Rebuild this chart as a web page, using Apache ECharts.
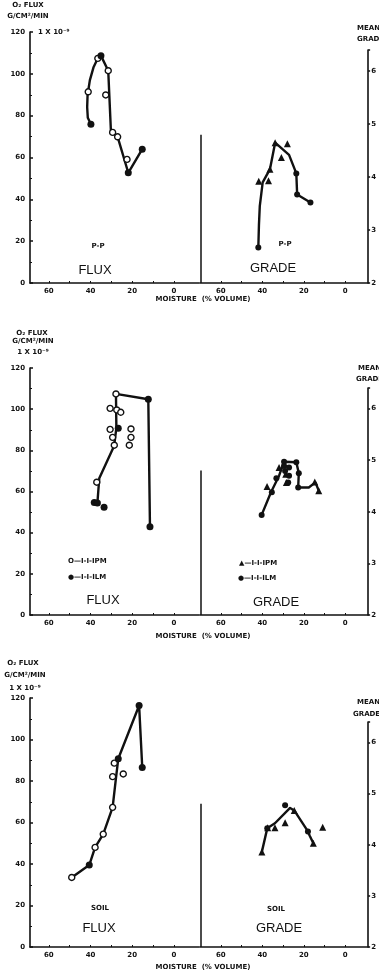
<!DOCTYPE html>
<html>
<head>
<meta charset="utf-8">
<title>O2 flux and mean grade vs moisture</title>
<script src="https://cdn.jsdelivr.net/npm/echarts@6.0.0/dist/echarts.min.js"></script>
<style>
  html, body { margin: 0; padding: 0; background: #fff; }
  #chart { width: 379px; height: 971px; }
</style>
</head>
<body>
<div id="chart"></div>
<script>
// moisture (% volume) against O2 flux (g/cm2/min x 1e-9) and mean grade, three plots
const moistureTicks = [60, 40, 20, 0];
const moistureMinor = [60, 50, 40, 30, 20, 10, 0];
const dividerTop = 4.8; // grade value where the middle line stops

// plot 1: P-P
const ppFluxLine = [[39.8, 75.9], [41.3, 79], [41.6, 84], [41.4, 90], [40.3, 97], [38.6, 103], [36.5, 107.4], [35, 108.7], [31.5, 101.5], [30.2, 72.3], [27, 69.9], [21.9, 52.7], [15.2, 64]];
const ppFluxOpen = [[41.1, 91.4], [36.5, 107.4], [31.5, 101.5], [32.7, 89.9], [29.4, 72], [27, 69.9], [22.5, 59.1]];
const ppFluxFilled = [[39.8, 75.9], [35, 108.7], [21.9, 52.7], [15.2, 64]];
const ppGradeLine = [[41.9, 2.67], [41.6, 3.1], [41.2, 3.45], [39.8, 3.9], [36.3, 4.15], [33.8, 4.65], [27.1, 4.42], [23.6, 4.07], [23.2, 3.67], [16.8, 3.52]];
const ppGradeTri = [[41.7, 3.92], [37, 3.93], [36.3, 4.15], [33.8, 4.65], [27.9, 4.63], [30.8, 4.37]];
const ppGradeDot = [[41.9, 2.67], [23.6, 4.07], [23.2, 3.67], [16.8, 3.52]];

// plot 2: I-I-I PM (open / triangles) and I-I-I LM (filled)
const pmFluxLine = [[38.2, 54.6], [36.7, 54.4], [35.8, 66.4], [28.7, 82.1], [27.6, 90.9], [27.8, 107.4], [12.3, 104.8], [11.5, 42.9]];
const pmFluxOpen = [[37, 64.5], [30.6, 100.4], [27.4, 99.6], [25.5, 98.5], [30.6, 90.2], [29.4, 86.3], [28.6, 82.5], [20.6, 90.4], [20.6, 86.3], [21.4, 82.5], [27.8, 107.4]];
const lmFluxFilled = [[38.2, 54.6], [36.7, 54.4], [33.5, 52.3], [26.7, 90.7], [12.3, 104.8], [11.5, 42.9]];
const pmGradeLine = [[40.3, 3.94], [35.8, 4.38], [31.9, 4.7], [29.5, 4.97], [23.6, 4.96], [22.4, 4.75], [22.7, 4.47], [17.6, 4.47], [14.4, 4.57], [12.8, 4.41]];
const pmGradeTri = [[37.7, 4.49], [31.9, 4.86], [28.7, 4.73], [28.4, 4.57], [14.7, 4.58], [12.8, 4.41]];
const lmGradeDot = [[40.3, 3.94], [35.4, 4.38], [33.2, 4.65], [29.5, 4.97], [29.5, 4.89], [29, 4.79], [27.1, 4.86], [27.1, 4.7], [27.5, 4.57], [23.6, 4.96], [22.4, 4.75], [22.7, 4.47]];

// plot 3: SOIL
const soilFluxLine = [[49, 33.5], [40.6, 39.5], [37.8, 48], [33.9, 54.4], [29.4, 67.3], [27.8, 81.4], [26.7, 90.7], [16.7, 116.4], [15.2, 86.5]];
const soilFluxOpen = [[49, 33.5], [37.8, 48], [33.9, 54.4], [29.4, 67.3], [28.6, 88.6], [29.4, 82.1], [24.3, 83.4]];
const soilFluxFilled = [[40.6, 39.5], [26.7, 90.7], [16.7, 116.4], [15.2, 86.5]];
const soilGradeLine = [[40.2, 3.86], [37.6, 4.32], [33.9, 4.42], [26.6, 4.72], [24.6, 4.67], [18, 4.26], [17.2, 4.18], [15.4, 4.03]];
const soilGradeTri = [[40.2, 3.86], [37.4, 4.33], [33.9, 4.33], [29, 4.43], [24.6, 4.67], [10.9, 4.34], [15.4, 4.03]];
const soilGradeDot = [[37.6, 4.32], [29, 4.77], [18, 4.26]];

const plots = [
    { flux: [ppFluxLine, ppFluxOpen, ppFluxFilled], grade: [ppGradeLine, ppGradeTri, ppGradeDot] },
    { flux: [pmFluxLine, pmFluxOpen, lmFluxFilled], grade: [pmGradeLine, pmGradeTri, lmGradeDot] },
    { flux: [soilFluxLine, soilFluxOpen, soilFluxFilled], grade: [soilGradeLine, soilGradeTri, soilGradeDot] }
];

// layout of the three plots (pixels)
const baseY = [283, 615, 947];
const fluxTopY = [32, 368, 698];
const gradeTopY = [50, 388, 722];

const ink = '#111';
const small = 'bold 7px "DejaVu Sans"';
const big = '13px "Liberation Sans"';

const texts = [
    ['O\u2082 FLUX', 28, 5, small], ['G/CM\u00B2/MIN', 28, 16, small], ['1 X 10\u207B\u2079', 38, 32, small, 'left'],
    ['MEAN', 357, 28, small, 'left'], ['GRADE', 357, 39, small, 'left'],
    ['P-P', 98, 246, small], ['P-P', 285, 244, small],
    ['FLUX', 95, 270, big], ['GRADE', 273, 268, big],
    ['MOISTURE  (% VOLUME)', 203, 299, small],

    ['O\u2082 FLUX', 32, 333, small], ['G/CM\u00B2/MIN', 33, 341, small], ['1 X 10\u207B\u2079', 33, 352, small],
    ['MEAN', 358, 368, small, 'left'], ['GRADE', 356, 379, small, 'left'],
    ['O\u2014I-I-IPM', 68, 561, small, 'left'], ['\u25CF\u2014I-I-ILM', 68, 577, small, 'left'],
    ['\u25B2\u2014I-I-IPM', 239, 563, small, 'left'], ['\u25CF\u2014I-I-ILM', 238, 578, small, 'left'],
    ['FLUX', 103, 600, big], ['GRADE', 276, 602, big],
    ['MOISTURE  (% VOLUME)', 203, 636, small],

    ['O\u2082 FLUX', 23, 663, small], ['G/CM\u00B2/MIN', 25, 675, small], ['1 X 10\u207B\u2079', 25, 688, small],
    ['MEAN', 357, 702, small, 'left'], ['GRADE', 353, 714, small, 'left'],
    ['SOIL', 100, 908, small], ['SOIL', 276, 909, small],
    ['FLUX', 99, 928, big], ['GRADE', 279, 928, big],
    ['MOISTURE  (% VOLUME)', 203, 967, small]
];

const grid = [], xAxis = [], yAxis = [], series = [];

const axisLine = { show: true, onZero: false, lineStyle: { color: ink, width: 1.6 } };
const label = { color: ink, fontSize: 7, fontWeight: 'bold', fontFamily: 'DejaVu Sans' };

plots.forEach((p, i) => {
    const g = i * 2;
    grid.push({ left: 30, width: 169, top: fluxTopY[i], height: baseY[i] - fluxTopY[i] });
    grid.push({ left: 200, width: 170, top: gradeTopY[i], height: baseY[i] - gradeTopY[i] });

    // moisture axes, high values on the left
    xAxis.push({
        type: 'value', gridIndex: g, min: -12, max: 69, inverse: true,
        axisLine: axisLine, splitLine: { show: false },
        axisTick: { inside: true, length: 2, customValues: moistureMinor, lineStyle: { color: ink } },
        axisLabel: Object.assign({ margin: 5, customValues: moistureTicks }, label)
    });
    xAxis.push({
        type: 'value', gridIndex: g + 1, min: -11, max: 70, inverse: true,
        axisLine: axisLine, splitLine: { show: false },
        axisTick: { inside: true, length: 2, customValues: moistureMinor, lineStyle: { color: ink } },
        axisLabel: Object.assign({ margin: 5, customValues: moistureTicks }, label)
    });

    yAxis.push({
        type: 'value', gridIndex: g, position: 'left', min: 0, max: 120, interval: 20,
        axisLine: axisLine, splitLine: { show: false },
        axisTick: { inside: true, length: 3, lineStyle: { color: ink, width: 1.5 } },
        minorTick: { show: true, splitNumber: 2, length: 2, lineStyle: { color: ink } },
        axisLabel: Object.assign({ margin: 5 }, label)
    });
    yAxis.push({
        type: 'value', gridIndex: g + 1, position: 'right', min: 2, max: 6.4, interval: 1,
        axisLine: axisLine, splitLine: { show: false },
        axisTick: { length: 2, lineStyle: { color: ink, width: 1.5 } },
        axisLabel: Object.assign({ margin: 3, formatter: v => v === 6.4 ? '' : v }, label)
    });

    const [fLine, fOpen, fFilled] = p.flux;
    const [gLine, gTri, gDot] = p.grade;

    series.push({
        type: 'line', xAxisIndex: g, yAxisIndex: g, data: fLine, showSymbol: false,
        lineStyle: { color: ink, width: 2.4, join: 'round' }, z: 2, silent: true
    });
    series.push({
        type: 'scatter', xAxisIndex: g, yAxisIndex: g, data: fOpen, symbol: 'circle', symbolSize: 6,
        itemStyle: { color: '#fff', borderColor: ink, borderWidth: 1.4, opacity: 1 }, z: 3, silent: true
    });
    series.push({
        type: 'scatter', xAxisIndex: g, yAxisIndex: g, data: fFilled, symbol: 'circle', symbolSize: 7,
        itemStyle: { color: ink, opacity: 1 }, z: 4, silent: true
    });

    series.push({
        type: 'line', xAxisIndex: g + 1, yAxisIndex: g + 1, data: gLine, showSymbol: false,
        lineStyle: { color: ink, width: 2.4, join: 'round' }, z: 2, silent: true,
        markLine: {
            silent: true, symbol: 'none', label: { show: false },
            lineStyle: { color: ink, width: 1.5, type: 'solid' },
            data: [[{ coord: [69.5, 2] }, { coord: [69.5, dividerTop] }]]
        }
    });
    series.push({
        type: 'scatter', xAxisIndex: g + 1, yAxisIndex: g + 1, data: gTri, symbol: 'triangle', symbolSize: 7,
        itemStyle: { color: ink, opacity: 1 }, z: 3, silent: true
    });
    series.push({
        type: 'scatter', xAxisIndex: g + 1, yAxisIndex: g + 1, data: gDot, symbol: 'circle', symbolSize: 6,
        itemStyle: { color: ink, opacity: 1 }, z: 4, silent: true
    });
});

const graphic = texts.map(t => ({
    type: 'text', x: t[1], y: t[2], silent: true,
    style: { text: t[0], font: t[3], fill: ink, textAlign: t[4] || 'center', textVerticalAlign: 'middle' }
}));

const chart = echarts.init(document.getElementById('chart'), null, { renderer: 'canvas' });
chart.setOption({
    animation: false,
    backgroundColor: '#fff',
    grid: grid,
    xAxis: xAxis,
    yAxis: yAxis,
    series: series,
    graphic: graphic
});
window.onresize = function () {
    chart.resize();
};
</script>
</body>
</html>
